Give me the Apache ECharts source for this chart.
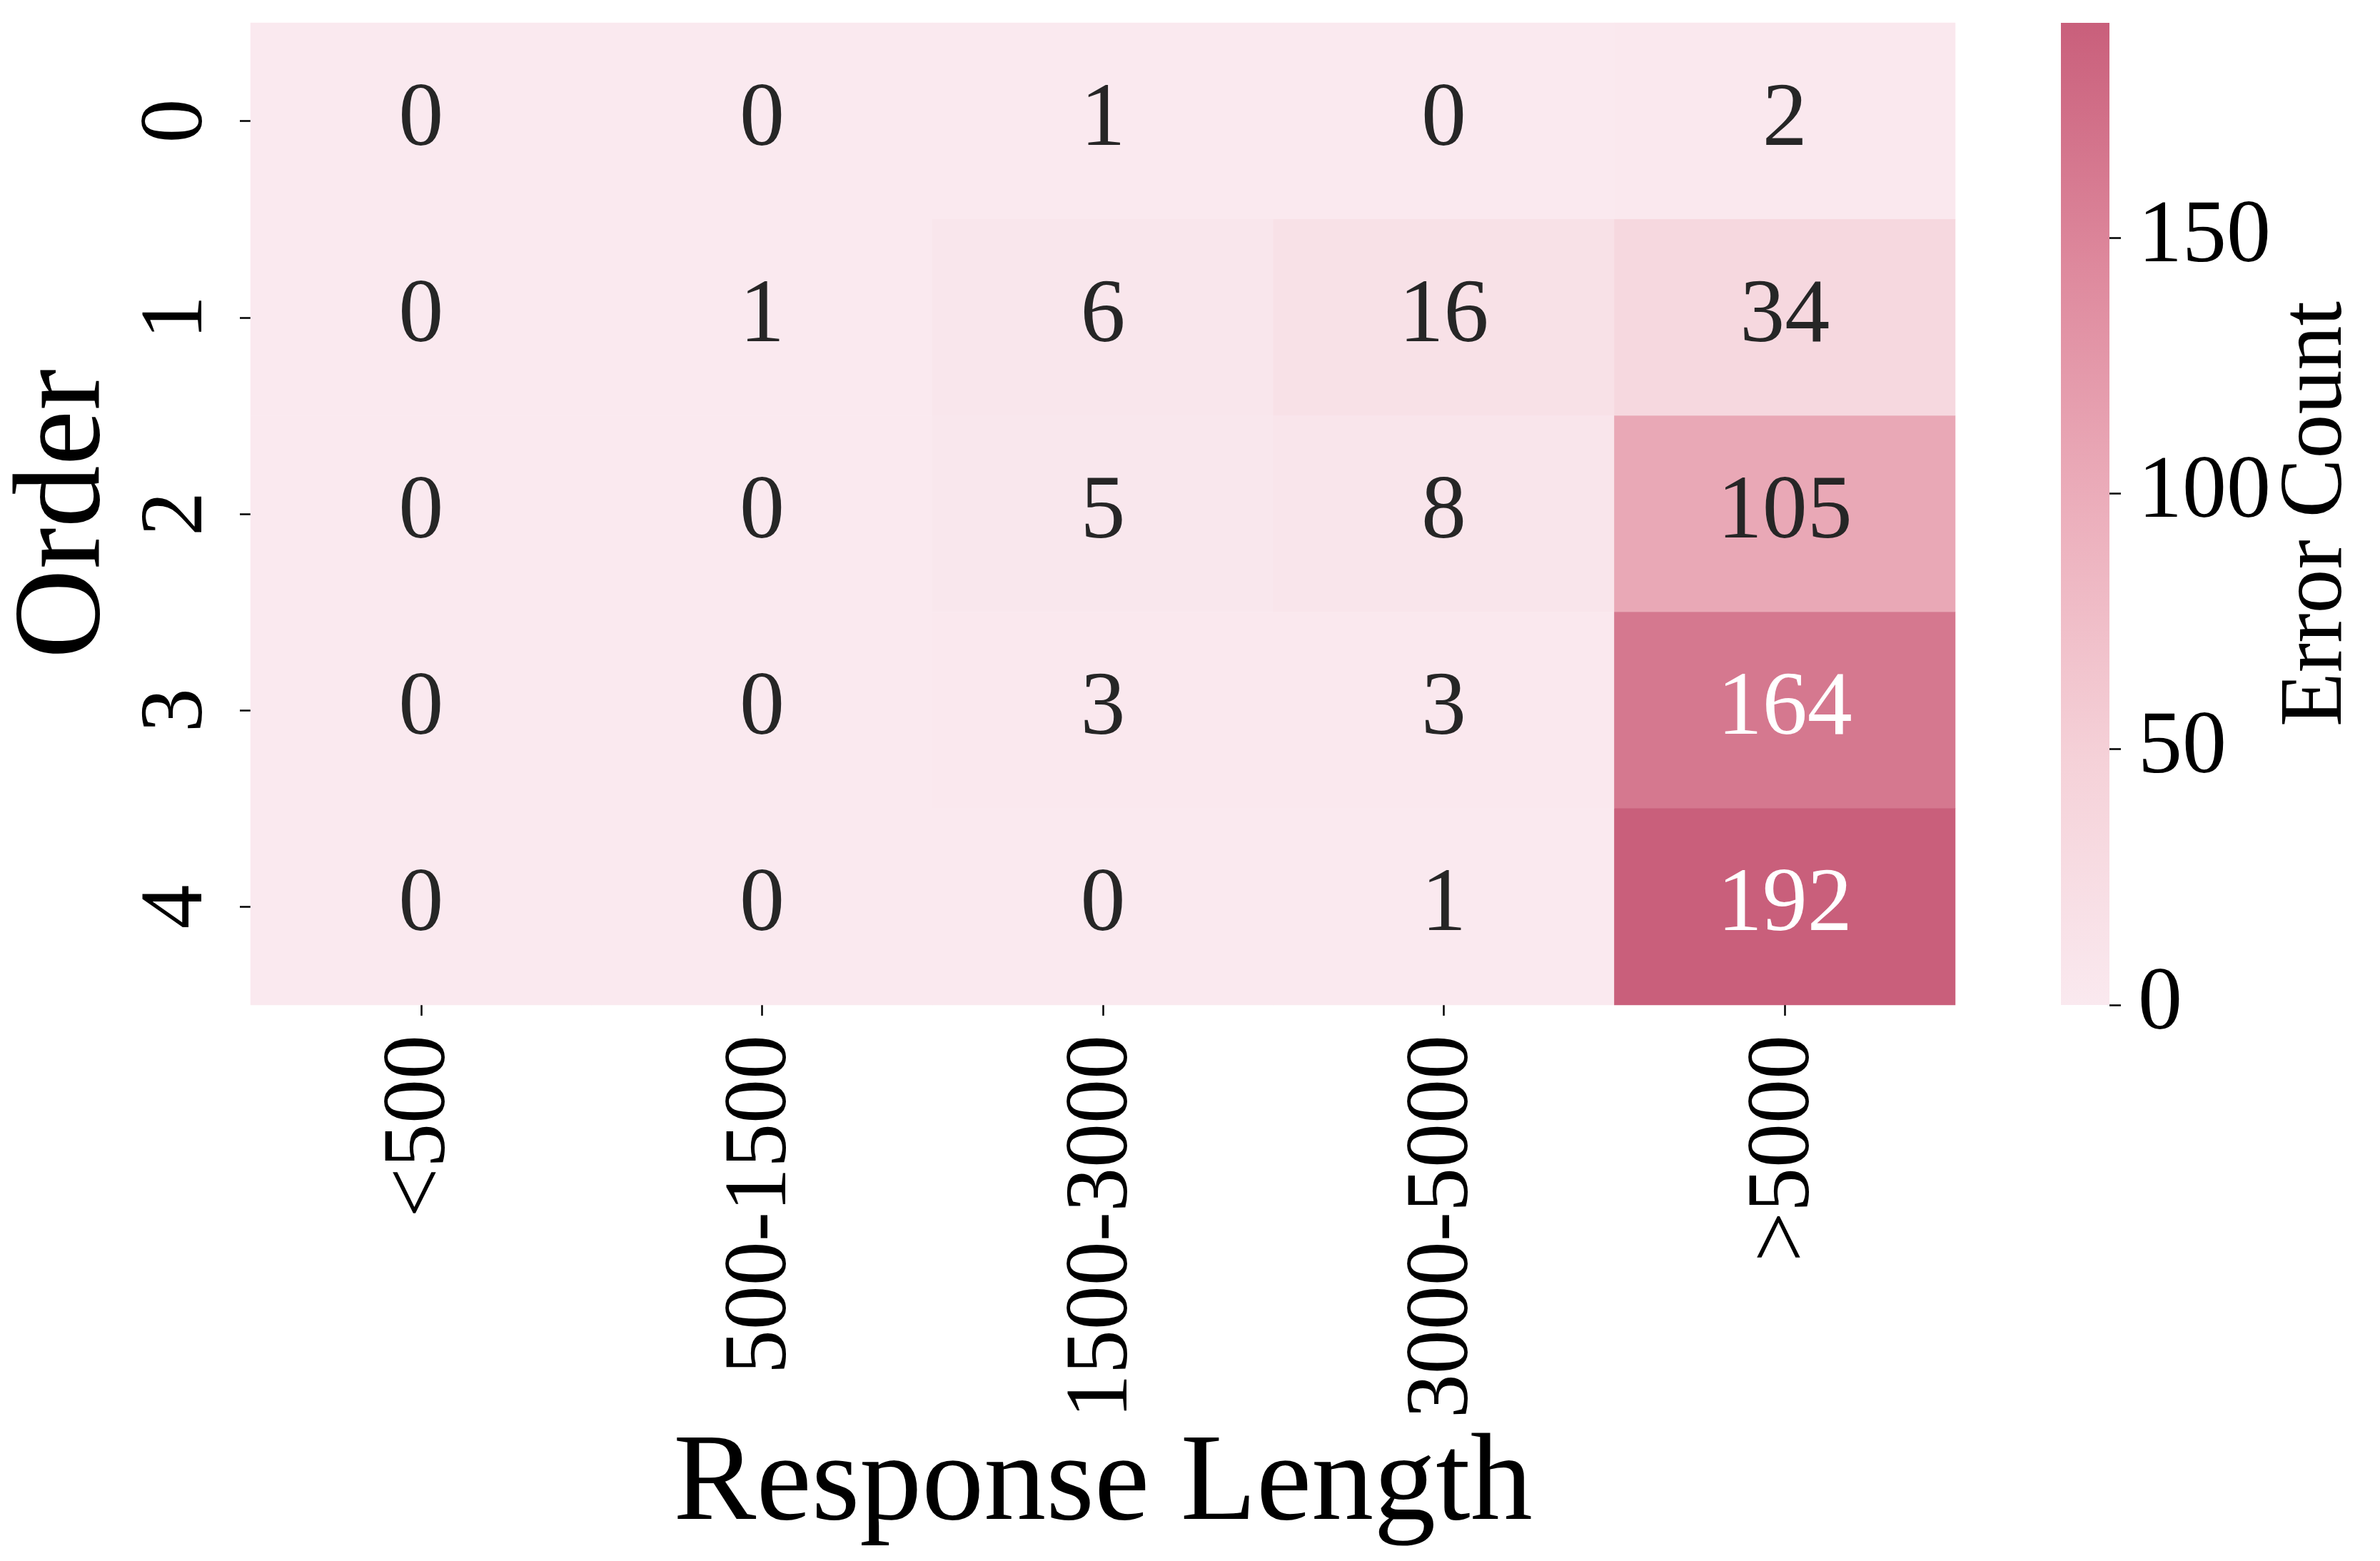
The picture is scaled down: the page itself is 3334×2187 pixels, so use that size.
<!DOCTYPE html>
<html>
<head>
<meta charset="utf-8">
<script src="https://cdn.jsdelivr.net/npm/echarts@6/dist/echarts.min.js"></script>
<style>html,body{margin:0;padding:0;background:#fff;}#chart{width:3334px;height:2187px;}</style>
</head>
<body>
<div id="chart"></div>
<script>
var responseLengths = ['<500', '500-1500', '1500-3000', '3000-5000', '>5000'];
var orders = ['0', '1', '2', '3', '4'];
var order0 = [0, 0, 1, 0, 2];
var order1 = [0, 1, 6, 16, 34];
var order2 = [0, 0, 5, 8, 105];
var order3 = [0, 0, 3, 3, 164];
var order4 = [0, 0, 0, 1, 192];
var colorbarTicks = [0, 50, 100, 150];
var colorMax = 192;
var paletteStops = ['#fae9ef', '#f5d1d8', '#ecafbc', '#de899d', '#c95f7b'];

var rows = [order0, order1, order2, order3, order4];
var FONT = "'Liberation Serif', 'Times New Roman', serif";
var data = [];
rows.forEach(function (row, yi) {
  row.forEach(function (v, xi) {
    data.push({
      value: [xi, yi, v],
      label: { color: v > 130 ? '#ffffff' : '#262626' }
    });
  });
});

var gradient = {
  type: 'linear', x: 0, y: 1, x2: 0, y2: 0,
  colorStops: paletteStops.map(function (c, i) { return { offset: i / (paletteStops.length - 1), color: c }; })
};

var chart = echarts.init(document.getElementById('chart'), null, { renderer: 'canvas' });
chart.setOption({
  backgroundColor: '#ffffff',
  animation: false,
  grid: [
    { left: 351, top: 32, width: 2388, height: 1376, outerBoundsMode: 'none', containLabel: false },
    { left: 2887, top: 32, width: 68, height: 1376, outerBoundsMode: 'none', containLabel: false }
  ],
  xAxis: [
    {
      type: 'category', gridIndex: 0, data: responseLengths,
      axisLine: { show: false },
      axisTick: { show: true, alignWithLabel: true, length: 15, lineStyle: { color: '#000', width: 2.5 } },
      axisLabel: { rotate: 90, margin: 42, fontSize: 124, fontFamily: FONT, color: '#000' },
      splitLine: { show: false },
      name: 'Response Length', nameLocation: 'middle', nameGap: 560,
      nameTextStyle: { fontSize: 174, fontFamily: FONT, color: '#000' }
    },
    { type: 'category', gridIndex: 1, show: false, data: ['Error Count'] }
  ],
  yAxis: [
    {
      type: 'category', gridIndex: 0, data: orders, inverse: true,
      axisLine: { show: false },
      axisTick: { show: true, alignWithLabel: true, length: 15, lineStyle: { color: '#000', width: 2.5 } },
      axisLabel: { rotate: 90, margin: 40, fontSize: 124, fontFamily: FONT, color: '#000' },
      splitLine: { show: false },
      name: 'Order', nameLocation: 'middle', nameRotate: 90, nameGap: 158,
      nameTextStyle: { fontSize: 174, fontFamily: FONT, color: '#000' }
    },
    {
      type: 'value', gridIndex: 1, position: 'right', min: 0, max: colorMax,
      z: 10,
      axisLine: { show: false },
      axisTick: { show: true, length: 16, inside: false, customValues: colorbarTicks, lineStyle: { color: '#000', width: 2.5 } },
      axisLabel: { margin: 40, fontSize: 124, fontFamily: FONT, color: '#000', customValues: colorbarTicks },
      splitLine: { show: false },
      name: 'Error Count', nameLocation: 'middle', nameRotate: 90, nameGap: 225,
      nameTextStyle: { fontSize: 124, fontFamily: FONT, color: '#000' }
    }
  ],
  visualMap: {
    type: 'continuous',
    show: false,
    seriesIndex: 0,
    min: 0, max: colorMax,
    inRange: { color: paletteStops }
  },
  series: [
    {
      type: 'heatmap',
      xAxisIndex: 0, yAxisIndex: 0,
      data: data,
      label: { show: true, fontSize: 126, fontFamily: FONT, formatter: function (p) { return p.value[2]; } },
      itemStyle: { borderWidth: 0 },
      emphasis: { disabled: true }
    },
    {
      type: 'bar',
      xAxisIndex: 1, yAxisIndex: 1,
      data: [colorMax],
      barWidth: '100%',
      itemStyle: { color: gradient },
      label: { show: false },
      emphasis: { disabled: true },
      silent: true
    }
  ]
});
</script>
</body>
</html>
